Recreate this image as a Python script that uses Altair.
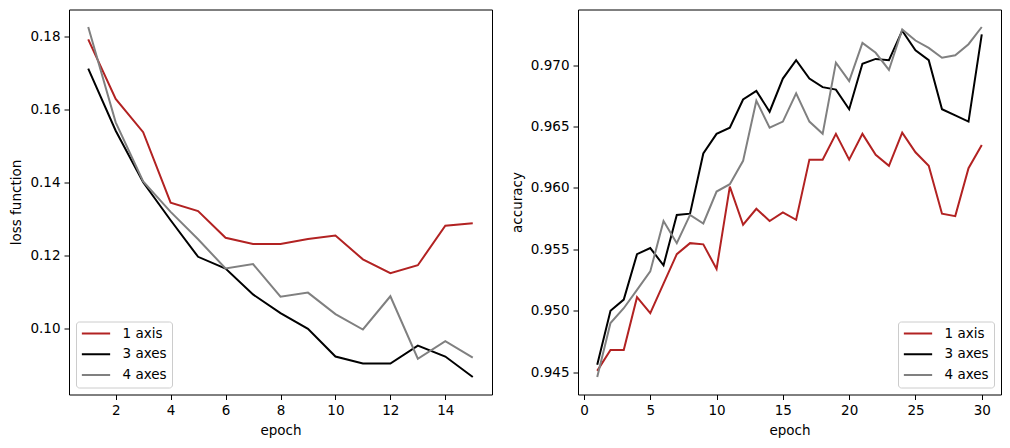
import altair as alt
import pandas as pd

series_names = ["1 axis", "3 axes", "4 axes"]
series_colors = ["#b22222", "#000000", "#808080"]

epochs_loss = list(range(1, 16))
loss_1 = [0.1791, 0.1628, 0.1537, 0.1344, 0.1321, 0.1248, 0.1231, 0.1231, 0.1245, 0.1254, 0.1189, 0.1151, 0.1173, 0.1281, 0.1288]
loss_3 = [0.1711, 0.1541, 0.1400, 0.1296, 0.1196, 0.1164, 0.1093, 0.1042, 0.0999, 0.0923, 0.0904, 0.0904, 0.0953, 0.0923, 0.0867]
loss_4 = [0.1825, 0.1564, 0.1402, 0.1319, 0.1244, 0.1164, 0.1176, 0.1087, 0.1098, 0.1039, 0.0997, 0.1088, 0.0917, 0.0965, 0.0920]

epochs_acc = list(range(1, 31))
acc_1 = [0.9451, 0.9468, 0.9468, 0.9511, 0.9498, 0.9522, 0.9546, 0.9555, 0.9554, 0.9534,
         0.9601, 0.9570, 0.9583, 0.9573, 0.9580, 0.9574, 0.9623, 0.9623, 0.9644, 0.9623,
         0.9644, 0.9627, 0.9618, 0.9645, 0.9629, 0.9618, 0.9579, 0.9577, 0.9616, 0.9635]
acc_3 = [0.9456, 0.9500, 0.9509, 0.9546, 0.9551, 0.9537, 0.9578, 0.9579, 0.9628, 0.9644,
         0.9649, 0.9672, 0.9679, 0.9662, 0.9689, 0.9704, 0.9689, 0.9682, 0.9680, 0.9664,
         0.9701, 0.9705, 0.9704, 0.9728, 0.9712, 0.9704, 0.9664, 0.9659, 0.9654, 0.9725]
acc_4 = [0.9446, 0.9490, 0.9502, 0.9517, 0.9532, 0.9573, 0.9555, 0.9578, 0.9571, 0.9597,
         0.9603, 0.9622, 0.9671, 0.9649, 0.9654, 0.9677, 0.9654, 0.9644, 0.9702, 0.9687,
         0.9718, 0.9710, 0.9696, 0.9729, 0.9720, 0.9714, 0.9706, 0.9708, 0.9717, 0.9731]

loss_ticks_x = [2, 4, 6, 8, 10, 12, 14]
loss_ticks_y = [0.10, 0.12, 0.14, 0.16, 0.18]
acc_ticks_x = [0, 5, 10, 15, 20, 25, 30]
acc_ticks_y = [0.945, 0.950, 0.955, 0.960, 0.965, 0.970]


def long(epochs, lists):
    rows = []
    for name, vals in zip(series_names, lists):
        for e, v in zip(epochs, vals):
            rows.append({"epoch": e, "value": v, "series": name})
    return pd.DataFrame(rows)


df_loss = long(epochs_loss, [loss_1, loss_3, loss_4])
df_acc = long(epochs_acc, [acc_1, acc_3, acc_4])


def margins(vals_lists):
    allv = [v for l in vals_lists for v in l]
    mn, mx = min(allv), max(allv)
    r = mx - mn
    return [mn - 0.05 * r, mx + 0.05 * r]


FONT = "DejaVu Sans"
FS = 13.5


def panel(df, xdom, ydom, xt, yt, yfmt, ytitle, legend_orient):
    legend = alt.Legend(
        title=None, orient=legend_orient, offset=7,
        fillColor="white", strokeColor="#cccccc", cornerRadius=3,
        padding=4.5, symbolType="stroke", symbolSize=800, symbolStrokeWidth=2,
        labelFontSize=FS, labelFont=FONT, labelColor="black",
        labelOffset=11, rowPadding=5.7, clipHeight=15, symbolOffset=0,
    )
    return alt.Chart(df).mark_line(strokeWidth=2, clip=True).encode(
        x=alt.X("epoch:Q", title="epoch",
                scale=alt.Scale(domain=xdom, nice=False, zero=False),
                axis=alt.Axis(values=xt, format="d")),
        y=alt.Y("value:Q", title=ytitle,
                scale=alt.Scale(domain=ydom, nice=False, zero=False),
                axis=alt.Axis(values=yt, format=yfmt)),
        color=alt.Color("series:N",
                        scale=alt.Scale(domain=series_names, range=series_colors),
                        legend=legend),
    ).properties(width=423, height=385)


left = panel(df_loss, [0.3, 15.7], margins([loss_1, loss_3, loss_4]),
             loss_ticks_x, loss_ticks_y, ".2f", "loss function", "bottom-left")
right = panel(df_acc, [-0.45, 31.45], margins([acc_1, acc_3, acc_4]),
              acc_ticks_x, acc_ticks_y, ".3f", "accuracy", "bottom-right")

chart = alt.hconcat(left, right, spacing=16).resolve_scale(color="independent").properties(
    padding={"left": 1, "top": 0.5, "right": 0, "bottom": 0}
).configure_view(
    stroke="black", strokeWidth=1
).configure_axis(
    grid=False, domain=False, tickColor="black", tickSize=5, tickWidth=1,
    labelColor="black", titleColor="black", labelFont=FONT, titleFont=FONT,
    labelFontSize=FS, titleFontSize=FS, titleFontWeight="normal",
    labelPadding=4, titlePadding=6
)

chart.save("out.html", embed_options={"renderer": "svg", "actions": False})
